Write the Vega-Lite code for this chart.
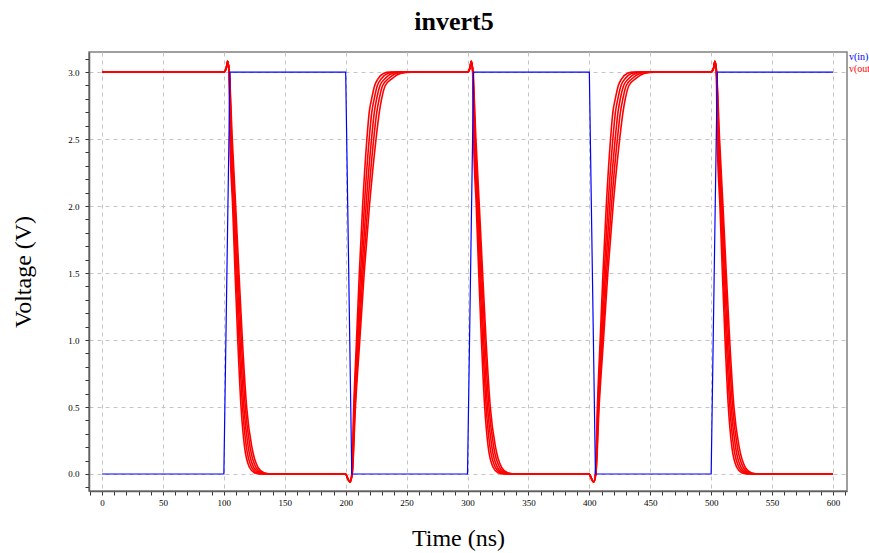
{
  "$schema": "https://vega.github.io/schema/vega-lite/v6.json",
  "width": 758,
  "height": 439,
  "autosize": {"type": "none"},
  "padding": {"left": 89, "top": 52, "right": 22, "bottom": 62},
  "background": "white",
  "title": {"text": "invert5", "font": "Liberation Serif", "fontSize": 26, "fontWeight": "bold", "color": "black", "offset": 17, "dx": -14},
  "config": {"view": {"stroke": "#808080", "strokeWidth": 1.5}, "font": "Liberation Serif"},
  "datasets": {
    "vin": [
      {"t": 0, "v": 0}, {"t": 100, "v": 0}, {"t": 105, "v": 3}, {"t": 200, "v": 3}, {"t": 205, "v": 0},
      {"t": 300, "v": 0}, {"t": 305, "v": 3}, {"t": 400, "v": 3}, {"t": 405, "v": 0},
      {"t": 500, "v": 0}, {"t": 505, "v": 3}, {"t": 600, "v": 3}
    ],
    "vout": [
      {"r":1,"t":0,"v":3},
      {"r":1,"t":100,"v":3},{"r":1,"t":102,"v":3.03},{"r":1,"t":103.1,"v":3.08},{"r":1,"t":104.2,"v":3},{"r":1,"t":105,"v":2.5},{"r":1,"t":107.2,"v":2},{"r":1,"t":109.2,"v":1.5},{"r":1,"t":111.4,"v":1},{"r":1,"t":114.1,"v":0.5},{"r":1,"t":117,"v":0.2},{"r":1,"t":121,"v":0.05},{"r":1,"t":125,"v":0.01},{"r":1,"t":130,"v":0},
      {"r":1,"t":200,"v":0},{"r":1,"t":201.5,"v":-0.03},{"r":1,"t":203.5,"v":-0.06},{"r":1,"t":205,"v":0},{"r":1,"t":206.6,"v":0.5},{"r":1,"t":208.9,"v":1},{"r":1,"t":211.2,"v":1.5},{"r":1,"t":213.9,"v":2},{"r":1,"t":217.4,"v":2.5},{"r":1,"t":219.3,"v":2.7},{"r":1,"t":221.3,"v":2.8},{"r":1,"t":223.8,"v":2.9},{"r":1,"t":226.5,"v":2.95},{"r":1,"t":231,"v":2.99},{"r":1,"t":236,"v":3},
      {"r":1,"t":300,"v":3},{"r":1,"t":302,"v":3.03},{"r":1,"t":303.1,"v":3.08},{"r":1,"t":304.2,"v":3},{"r":1,"t":305,"v":2.5},{"r":1,"t":307.2,"v":2},{"r":1,"t":309.2,"v":1.5},{"r":1,"t":311.4,"v":1},{"r":1,"t":314.1,"v":0.5},{"r":1,"t":317,"v":0.2},{"r":1,"t":321,"v":0.05},{"r":1,"t":325,"v":0.01},{"r":1,"t":330,"v":0},
      {"r":1,"t":400,"v":0},{"r":1,"t":401.5,"v":-0.03},{"r":1,"t":403.5,"v":-0.06},{"r":1,"t":405,"v":0},{"r":1,"t":406.6,"v":0.5},{"r":1,"t":408.9,"v":1},{"r":1,"t":411.2,"v":1.5},{"r":1,"t":413.9,"v":2},{"r":1,"t":417.4,"v":2.5},{"r":1,"t":419.3,"v":2.7},{"r":1,"t":421.3,"v":2.8},{"r":1,"t":423.8,"v":2.9},{"r":1,"t":426.5,"v":2.95},{"r":1,"t":431,"v":2.99},{"r":1,"t":436,"v":3},
      {"r":1,"t":500,"v":3},{"r":1,"t":502,"v":3.03},{"r":1,"t":503.1,"v":3.08},{"r":1,"t":504.2,"v":3},{"r":1,"t":505,"v":2.5},{"r":1,"t":507.2,"v":2},{"r":1,"t":509.2,"v":1.5},{"r":1,"t":511.4,"v":1},{"r":1,"t":514.1,"v":0.5},{"r":1,"t":517,"v":0.2},{"r":1,"t":521,"v":0.05},{"r":1,"t":525,"v":0.01},{"r":1,"t":530,"v":0},
      {"r":1,"t":600,"v":0},

      {"r":2,"t":0,"v":3},
      {"r":2,"t":100,"v":3},{"r":2,"t":102,"v":3.03},{"r":2,"t":103.1,"v":3.08},{"r":2,"t":104.3,"v":3},{"r":2,"t":105.5,"v":2.5},{"r":2,"t":107.8,"v":2},{"r":2,"t":110,"v":1.5},{"r":2,"t":112.4,"v":1},{"r":2,"t":115.3,"v":0.5},{"r":2,"t":118.5,"v":0.2},{"r":2,"t":122.8,"v":0.05},{"r":2,"t":127,"v":0.01},{"r":2,"t":132.5,"v":0},
      {"r":2,"t":200,"v":0},{"r":2,"t":201.5,"v":-0.03},{"r":2,"t":203.5,"v":-0.06},{"r":2,"t":205.1,"v":0},{"r":2,"t":206.95,"v":0.5},{"r":2,"t":209.6,"v":1},{"r":2,"t":212.2,"v":1.5},{"r":2,"t":215.3,"v":2},{"r":2,"t":219.3,"v":2.5},{"r":2,"t":221.4,"v":2.7},{"r":2,"t":223.4,"v":2.8},{"r":2,"t":226,"v":2.9},{"r":2,"t":229.3,"v":2.95},{"r":2,"t":234.5,"v":2.99},{"r":2,"t":240.5,"v":3},
      {"r":2,"t":300,"v":3},{"r":2,"t":302,"v":3.03},{"r":2,"t":303.1,"v":3.08},{"r":2,"t":304.3,"v":3},{"r":2,"t":305.5,"v":2.5},{"r":2,"t":307.8,"v":2},{"r":2,"t":310,"v":1.5},{"r":2,"t":312.4,"v":1},{"r":2,"t":315.3,"v":0.5},{"r":2,"t":318.5,"v":0.2},{"r":2,"t":322.8,"v":0.05},{"r":2,"t":327,"v":0.01},{"r":2,"t":332.5,"v":0},
      {"r":2,"t":400,"v":0},{"r":2,"t":401.5,"v":-0.03},{"r":2,"t":403.5,"v":-0.06},{"r":2,"t":405.1,"v":0},{"r":2,"t":406.95,"v":0.5},{"r":2,"t":409.6,"v":1},{"r":2,"t":412.2,"v":1.5},{"r":2,"t":415.3,"v":2},{"r":2,"t":419.3,"v":2.5},{"r":2,"t":421.4,"v":2.7},{"r":2,"t":423.4,"v":2.8},{"r":2,"t":426,"v":2.9},{"r":2,"t":429.3,"v":2.95},{"r":2,"t":434.5,"v":2.99},{"r":2,"t":440.5,"v":3},
      {"r":2,"t":500,"v":3},{"r":2,"t":502,"v":3.03},{"r":2,"t":503.1,"v":3.08},{"r":2,"t":504.3,"v":3},{"r":2,"t":505.5,"v":2.5},{"r":2,"t":507.8,"v":2},{"r":2,"t":510,"v":1.5},{"r":2,"t":512.4,"v":1},{"r":2,"t":515.3,"v":0.5},{"r":2,"t":518.5,"v":0.2},{"r":2,"t":522.8,"v":0.05},{"r":2,"t":527,"v":0.01},{"r":2,"t":532.5,"v":0},
      {"r":2,"t":600,"v":0},

      {"r":3,"t":0,"v":3},
      {"r":3,"t":100,"v":3},{"r":3,"t":102,"v":3.03},{"r":3,"t":103.1,"v":3.08},{"r":3,"t":104.4,"v":3},{"r":3,"t":106,"v":2.5},{"r":3,"t":108.5,"v":2},{"r":3,"t":110.8,"v":1.5},{"r":3,"t":113.3,"v":1},{"r":3,"t":116.4,"v":0.5},{"r":3,"t":120,"v":0.2},{"r":3,"t":124.5,"v":0.05},{"r":3,"t":129,"v":0.01},{"r":3,"t":135,"v":0},
      {"r":3,"t":200,"v":0},{"r":3,"t":201.5,"v":-0.03},{"r":3,"t":203.5,"v":-0.06},{"r":3,"t":205.2,"v":0},{"r":3,"t":207.3,"v":0.5},{"r":3,"t":210.25,"v":1},{"r":3,"t":213.2,"v":1.5},{"r":3,"t":216.7,"v":2},{"r":3,"t":221.2,"v":2.5},{"r":3,"t":223.5,"v":2.7},{"r":3,"t":225.4,"v":2.8},{"r":3,"t":228.2,"v":2.9},{"r":3,"t":232.2,"v":2.95},{"r":3,"t":238,"v":2.99},{"r":3,"t":245,"v":3},
      {"r":3,"t":300,"v":3},{"r":3,"t":302,"v":3.03},{"r":3,"t":303.1,"v":3.08},{"r":3,"t":304.4,"v":3},{"r":3,"t":306,"v":2.5},{"r":3,"t":308.5,"v":2},{"r":3,"t":310.8,"v":1.5},{"r":3,"t":313.3,"v":1},{"r":3,"t":316.4,"v":0.5},{"r":3,"t":320,"v":0.2},{"r":3,"t":324.5,"v":0.05},{"r":3,"t":329,"v":0.01},{"r":3,"t":335,"v":0},
      {"r":3,"t":400,"v":0},{"r":3,"t":401.5,"v":-0.03},{"r":3,"t":403.5,"v":-0.06},{"r":3,"t":405.2,"v":0},{"r":3,"t":407.3,"v":0.5},{"r":3,"t":410.25,"v":1},{"r":3,"t":413.2,"v":1.5},{"r":3,"t":416.7,"v":2},{"r":3,"t":421.2,"v":2.5},{"r":3,"t":423.5,"v":2.7},{"r":3,"t":425.4,"v":2.8},{"r":3,"t":428.2,"v":2.9},{"r":3,"t":432.2,"v":2.95},{"r":3,"t":438,"v":2.99},{"r":3,"t":445,"v":3},
      {"r":3,"t":500,"v":3},{"r":3,"t":502,"v":3.03},{"r":3,"t":503.1,"v":3.08},{"r":3,"t":504.4,"v":3},{"r":3,"t":506,"v":2.5},{"r":3,"t":508.5,"v":2},{"r":3,"t":510.8,"v":1.5},{"r":3,"t":513.3,"v":1},{"r":3,"t":516.4,"v":0.5},{"r":3,"t":520,"v":0.2},{"r":3,"t":524.5,"v":0.05},{"r":3,"t":529,"v":0.01},{"r":3,"t":535,"v":0},
      {"r":3,"t":600,"v":0},

      {"r":4,"t":0,"v":3},
      {"r":4,"t":100,"v":3},{"r":4,"t":102,"v":3.03},{"r":4,"t":103.1,"v":3.08},{"r":4,"t":104.4,"v":3},{"r":4,"t":106.4,"v":2.5},{"r":4,"t":109.1,"v":2},{"r":4,"t":111.6,"v":1.5},{"r":4,"t":114.3,"v":1},{"r":4,"t":117.6,"v":0.5},{"r":4,"t":121.5,"v":0.2},{"r":4,"t":126.3,"v":0.05},{"r":4,"t":131,"v":0.01},{"r":4,"t":137.5,"v":0},
      {"r":4,"t":200,"v":0},{"r":4,"t":201.5,"v":-0.03},{"r":4,"t":203.5,"v":-0.06},{"r":4,"t":205.3,"v":0},{"r":4,"t":207.65,"v":0.5},{"r":4,"t":210.9,"v":1},{"r":4,"t":214.2,"v":1.5},{"r":4,"t":218.1,"v":2},{"r":4,"t":223,"v":2.5},{"r":4,"t":225.5,"v":2.7},{"r":4,"t":227.5,"v":2.8},{"r":4,"t":230.3,"v":2.9},{"r":4,"t":235,"v":2.95},{"r":4,"t":241.5,"v":2.99},{"r":4,"t":249.5,"v":3},
      {"r":4,"t":300,"v":3},{"r":4,"t":302,"v":3.03},{"r":4,"t":303.1,"v":3.08},{"r":4,"t":304.4,"v":3},{"r":4,"t":306.4,"v":2.5},{"r":4,"t":309.1,"v":2},{"r":4,"t":311.6,"v":1.5},{"r":4,"t":314.3,"v":1},{"r":4,"t":317.6,"v":0.5},{"r":4,"t":321.5,"v":0.2},{"r":4,"t":326.3,"v":0.05},{"r":4,"t":331,"v":0.01},{"r":4,"t":337.5,"v":0},
      {"r":4,"t":400,"v":0},{"r":4,"t":401.5,"v":-0.03},{"r":4,"t":403.5,"v":-0.06},{"r":4,"t":405.3,"v":0},{"r":4,"t":407.65,"v":0.5},{"r":4,"t":410.9,"v":1},{"r":4,"t":414.2,"v":1.5},{"r":4,"t":418.1,"v":2},{"r":4,"t":423,"v":2.5},{"r":4,"t":425.5,"v":2.7},{"r":4,"t":427.5,"v":2.8},{"r":4,"t":430.3,"v":2.9},{"r":4,"t":435,"v":2.95},{"r":4,"t":441.5,"v":2.99},{"r":4,"t":449.5,"v":3},
      {"r":4,"t":500,"v":3},{"r":4,"t":502,"v":3.03},{"r":4,"t":503.1,"v":3.08},{"r":4,"t":504.4,"v":3},{"r":4,"t":506.4,"v":2.5},{"r":4,"t":509.1,"v":2},{"r":4,"t":511.6,"v":1.5},{"r":4,"t":514.3,"v":1},{"r":4,"t":517.6,"v":0.5},{"r":4,"t":521.5,"v":0.2},{"r":4,"t":526.3,"v":0.05},{"r":4,"t":531,"v":0.01},{"r":4,"t":537.5,"v":0},
      {"r":4,"t":600,"v":0},

      {"r":5,"t":0,"v":3},
      {"r":5,"t":100,"v":3},{"r":5,"t":102,"v":3.03},{"r":5,"t":103.1,"v":3.08},{"r":5,"t":104.5,"v":3},{"r":5,"t":106.9,"v":2.5},{"r":5,"t":109.7,"v":2},{"r":5,"t":112.4,"v":1.5},{"r":5,"t":115.2,"v":1},{"r":5,"t":118.7,"v":0.5},{"r":5,"t":123,"v":0.2},{"r":5,"t":128,"v":0.05},{"r":5,"t":133,"v":0.01},{"r":5,"t":140,"v":0},
      {"r":5,"t":200,"v":0},{"r":5,"t":201.5,"v":-0.03},{"r":5,"t":203.5,"v":-0.06},{"r":5,"t":205.4,"v":0},{"r":5,"t":208,"v":0.5},{"r":5,"t":211.6,"v":1},{"r":5,"t":215.2,"v":1.5},{"r":5,"t":219.5,"v":2},{"r":5,"t":224.9,"v":2.5},{"r":5,"t":227.6,"v":2.7},{"r":5,"t":229.5,"v":2.8},{"r":5,"t":232.5,"v":2.9},{"r":5,"t":237.8,"v":2.95},{"r":5,"t":245,"v":2.99},{"r":5,"t":254,"v":3},
      {"r":5,"t":300,"v":3},{"r":5,"t":302,"v":3.03},{"r":5,"t":303.1,"v":3.08},{"r":5,"t":304.5,"v":3},{"r":5,"t":306.9,"v":2.5},{"r":5,"t":309.7,"v":2},{"r":5,"t":312.4,"v":1.5},{"r":5,"t":315.2,"v":1},{"r":5,"t":318.7,"v":0.5},{"r":5,"t":323,"v":0.2},{"r":5,"t":328,"v":0.05},{"r":5,"t":333,"v":0.01},{"r":5,"t":340,"v":0},
      {"r":5,"t":400,"v":0},{"r":5,"t":401.5,"v":-0.03},{"r":5,"t":403.5,"v":-0.06},{"r":5,"t":405.4,"v":0},{"r":5,"t":408,"v":0.5},{"r":5,"t":411.6,"v":1},{"r":5,"t":415.2,"v":1.5},{"r":5,"t":419.5,"v":2},{"r":5,"t":424.9,"v":2.5},{"r":5,"t":427.6,"v":2.7},{"r":5,"t":429.5,"v":2.8},{"r":5,"t":432.5,"v":2.9},{"r":5,"t":437.8,"v":2.95},{"r":5,"t":445,"v":2.99},{"r":5,"t":454,"v":3},
      {"r":5,"t":500,"v":3},{"r":5,"t":502,"v":3.03},{"r":5,"t":503.1,"v":3.08},{"r":5,"t":504.5,"v":3},{"r":5,"t":506.9,"v":2.5},{"r":5,"t":509.7,"v":2},{"r":5,"t":512.4,"v":1.5},{"r":5,"t":515.2,"v":1},{"r":5,"t":518.7,"v":0.5},{"r":5,"t":523,"v":0.2},{"r":5,"t":528,"v":0.05},{"r":5,"t":533,"v":0.01},{"r":5,"t":540,"v":0},
      {"r":5,"t":600,"v":0}
    ]
  },
  "encoding": {
    "x": {
      "field": "t",
      "type": "quantitative",
      "scale": {"domain": [-10.7, 611.5], "nice": false, "zero": false},
      "axis": {
        "title": "Time (ns)",
        "values": [-10,0,10,20,30,40,50,60,70,80,90,100,110,120,130,140,150,160,170,180,190,200,210,220,230,240,250,260,270,280,290,300,310,320,330,340,350,360,370,380,390,400,410,420,430,440,450,460,470,480,490,500,510,520,530,540,550,560,570,580,590,600,610],
        "format": "d",
        "labelExpr": "datum.value % 50 === 0 ? datum.label : ''",
        "labelOverlap": false,
        "labelFlush": false,
        "labelFont": "Liberation Serif",
        "labelFontSize": 9,
        "labelColor": "black",
        "labelPadding": 3,
        "tickSize": 4,
        "tickColor": "#333333",
        "domainColor": "#606060",
        "domainWidth": 1.5,
        "grid": true,
        "gridColor": "#c4c4c4",
        "gridDash": [4, 4],
        "gridOpacity": {"condition": {"test": "datum.value % 50 === 0", "value": 1}, "value": 0},
        "titleFont": "Liberation Serif",
        "titleFontSize": 24,
        "titleFontWeight": "normal",
        "titleColor": "black",
        "titlePadding": 19,
        "titleX": 369
      }
    },
    "y": {
      "field": "v",
      "type": "quantitative",
      "scale": {"domain": [-0.127, 3.15], "nice": false, "zero": false},
      "axis": {
        "title": "Voltage (V)",
        "values": [-0.1,0,0.1,0.2,0.3,0.4,0.5,0.6,0.7,0.8,0.9,1,1.1,1.2,1.3,1.4,1.5,1.6,1.7,1.8,1.9,2,2.1,2.2,2.3,2.4,2.5,2.6,2.7,2.8,2.9,3,3.1],
        "labelExpr": "abs(datum.value * 2 - round(datum.value * 2)) < 0.001 ? format(datum.value, '.1f') : ''",
        "labelOverlap": false,
        "labelFlush": false,
        "labelFont": "Liberation Serif",
        "labelFontSize": 9,
        "labelColor": "black",
        "labelPadding": 6,
        "tickSize": 4,
        "tickColor": "#333333",
        "domainColor": "#606060",
        "domainWidth": 1.5,
        "grid": true,
        "gridColor": "#c4c4c4",
        "gridDash": [4, 4],
        "gridOpacity": {"condition": {"test": "abs(datum.value * 2 - round(datum.value * 2)) < 0.001", "value": 1}, "value": 0},
        "titleFont": "Liberation Serif",
        "titleFontSize": 24,
        "titleFontWeight": "normal",
        "titleColor": "black",
        "titlePadding": 32
      }
    }
  },
  "layer": [
    {
      "data": {"name": "vout"},
      "mark": {"type": "line", "interpolate": "monotone", "strokeWidth": 1.6},
      "encoding": {
        "detail": {"field": "r", "type": "nominal"},
        "color": {
          "datum": "v(out)",
          "type": "nominal",
          "scale": {"domain": ["v(in)", "v(out)"], "range": ["#0000ff", "#ff0000"]},
          "legend": {
            "orient": "none",
            "legendX": 750,
            "legendY": 0,
            "title": null,
            "symbolSize": 0,
            "symbolStrokeWidth": 0,
            "symbolOpacity": 0,
            "labelOffset": 0,
            "labelFont": "Liberation Serif",
            "labelFontSize": 10,
            "rowPadding": 2,
            "padding": 0,
            "encode": {"labels": {"update": {"fill": {"scale": "color", "field": "value"}}}}
          }
        }
      }
    },
    {
      "data": {"name": "vin"},
      "mark": {"type": "line", "strokeWidth": 1.2},
      "encoding": {
        "color": {"datum": "v(in)", "type": "nominal"}
      }
    }
  ]
}
